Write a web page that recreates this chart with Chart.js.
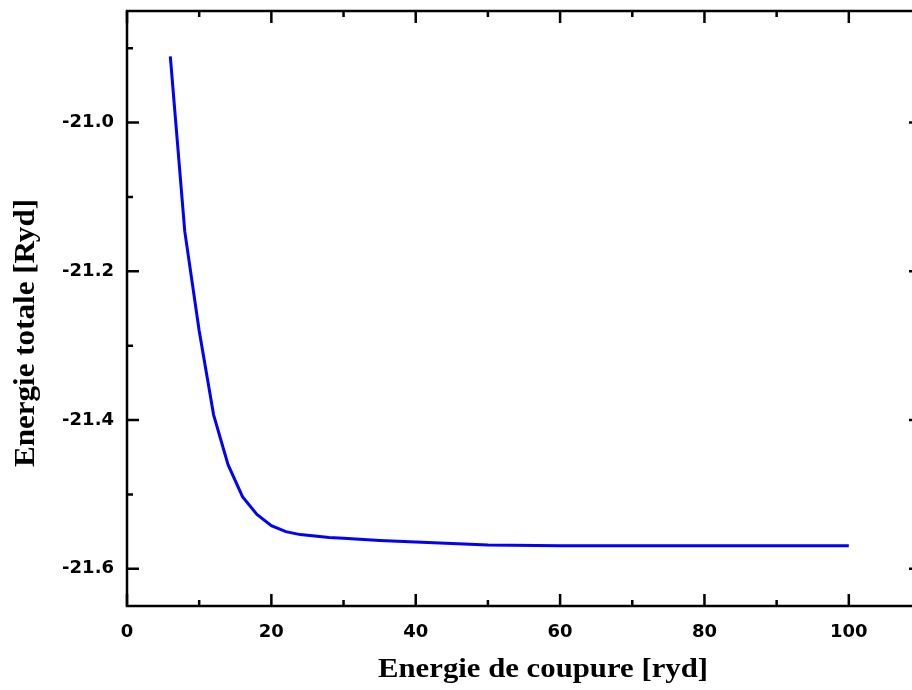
<!DOCTYPE html>
<html>
  <head>
    <script src="https://cdn.jsdelivr.net/npm/chart.js@4"></script>
    <style>
      body { margin: 0; background: #fff; }
      #wrap { width: 912px; height: 690px; overflow: hidden; }
    </style>
  </head>

  <body>
    <div id="wrap">
      <canvas id="canvas" width="935" height="690"></canvas>
    </div>
    <script>
      // cutoff energy [ryd] vs total energy [Ryd]
      const cutoff = [6, 8, 10, 12, 14, 16, 18, 20, 22, 24, 26, 28, 30, 35, 40, 45, 50, 60, 70, 80, 90, 100];
      const energy = [-20.911, -21.146, -21.280, -21.393, -21.460, -21.503, -21.527, -21.542, -21.550, -21.554,
        -21.556, -21.558, -21.559, -21.562, -21.564, -21.566, -21.568, -21.569, -21.569, -21.569, -21.569, -21.569];
      const xTicks = [0, 20, 40, 60, 80, 100];
      const xMinor = [10, 30, 50, 70, 90];
      const yTicks = [-21.6, -21.4, -21.2, -21.0];
      const yMinor = [-21.5, -21.3, -21.1, -20.9];

      const tickFont = { family: 'DejaVu Sans', size: 18, weight: 'bold' };

      // frame, inward tick marks on all four sides, and axis titles
      const frame = {
        id: 'frame',
        afterDraw(chart) {
          const { ctx, chartArea: a, scales } = chart;
          const x = scales.x, y = scales.y;
          ctx.save();
          ctx.strokeStyle = '#000';
          ctx.lineWidth = 2.5;
          ctx.strokeRect(a.left, a.top, a.right - a.left, a.bottom - a.top);
          ctx.beginPath();
          const mark = (list, len) => {
            list.forEach((v) => {
              const px = x.getPixelForValue(v);
              ctx.moveTo(px, a.bottom); ctx.lineTo(px, a.bottom - len);
              ctx.moveTo(px, a.top); ctx.lineTo(px, a.top + len);
            });
          };
          const markY = (list, len) => {
            list.forEach((v) => {
              const py = y.getPixelForValue(v);
              ctx.moveTo(a.left, py); ctx.lineTo(a.left + len, py);
              ctx.moveTo(a.right, py); ctx.lineTo(a.right - len, py);
            });
          };
          mark(xTicks, 12); mark(xMinor, 6);
          markY(yTicks, 12); markY(yMinor, 6);
          ctx.stroke();

          ctx.fillStyle = '#000';
          ctx.textAlign = 'center';
          ctx.textBaseline = 'middle';
          ctx.font = 'bold 27px "Liberation Serif"';
          let t = 'Energie de coupure [ryd]';
          let w = ctx.measureText(t).width;
          ctx.save();
          ctx.translate(543, 670);
          ctx.scale(330 / w, 1);
          ctx.fillText(t, 0, 0);
          ctx.restore();

          ctx.font = 'bold 29px "Liberation Serif"';
          t = 'Energie totale [Ryd]';
          w = ctx.measureText(t).width;
          ctx.save();
          ctx.translate(27, 333);
          ctx.rotate(-Math.PI / 2);
          ctx.scale(268 / w, 1);
          ctx.fillText(t, 0, 0);
          ctx.restore();
          ctx.restore();
        },
      };

      new Chart(document.getElementById('canvas').getContext('2d'), {
        type: 'scatter',
        data: {
          datasets: [{
            data: cutoff.map((c, i) => ({ x: c, y: energy[i] })),
            showLine: true,
            borderColor: '#0000ff',
            borderWidth: 3,
            pointRadius: 0,
            tension: 0,
          }],
        },
        options: {
          responsive: false,
          animation: false,
          layout: { padding: { left: 0, top: 11, right: 14, bottom: 0 } },
          plugins: { legend: { display: false }, tooltip: { enabled: false } },
          scales: {
            x: {
              type: 'linear',
              min: 0,
              max: 110,
              grid: { display: false },
              border: { display: false },
              afterBuildTicks: (s) => { s.ticks = xTicks.map((v) => ({ value: v })); },
              afterFit: (s) => { s.height = 84; s.paddingLeft = 0; s.paddingRight = 0; },
              ticks: { color: '#000', font: tickFont, padding: 8, maxRotation: 0 },
            },
            y: {
              min: -21.65,
              max: -20.85,
              grid: { display: false },
              border: { display: false },
              afterBuildTicks: (s) => { s.ticks = yTicks.map((v) => ({ value: v })); },
              afterFit: (s) => { s.width = 127; s.paddingTop = 0; s.paddingBottom = 0; },
              ticks: {
                color: '#000',
                font: tickFont,
                padding: 5,
                callback: (v) => v.toFixed(1),
              },
            },
          },
        },
        plugins: [frame],
      });
    </script>
  </body>
</html>
